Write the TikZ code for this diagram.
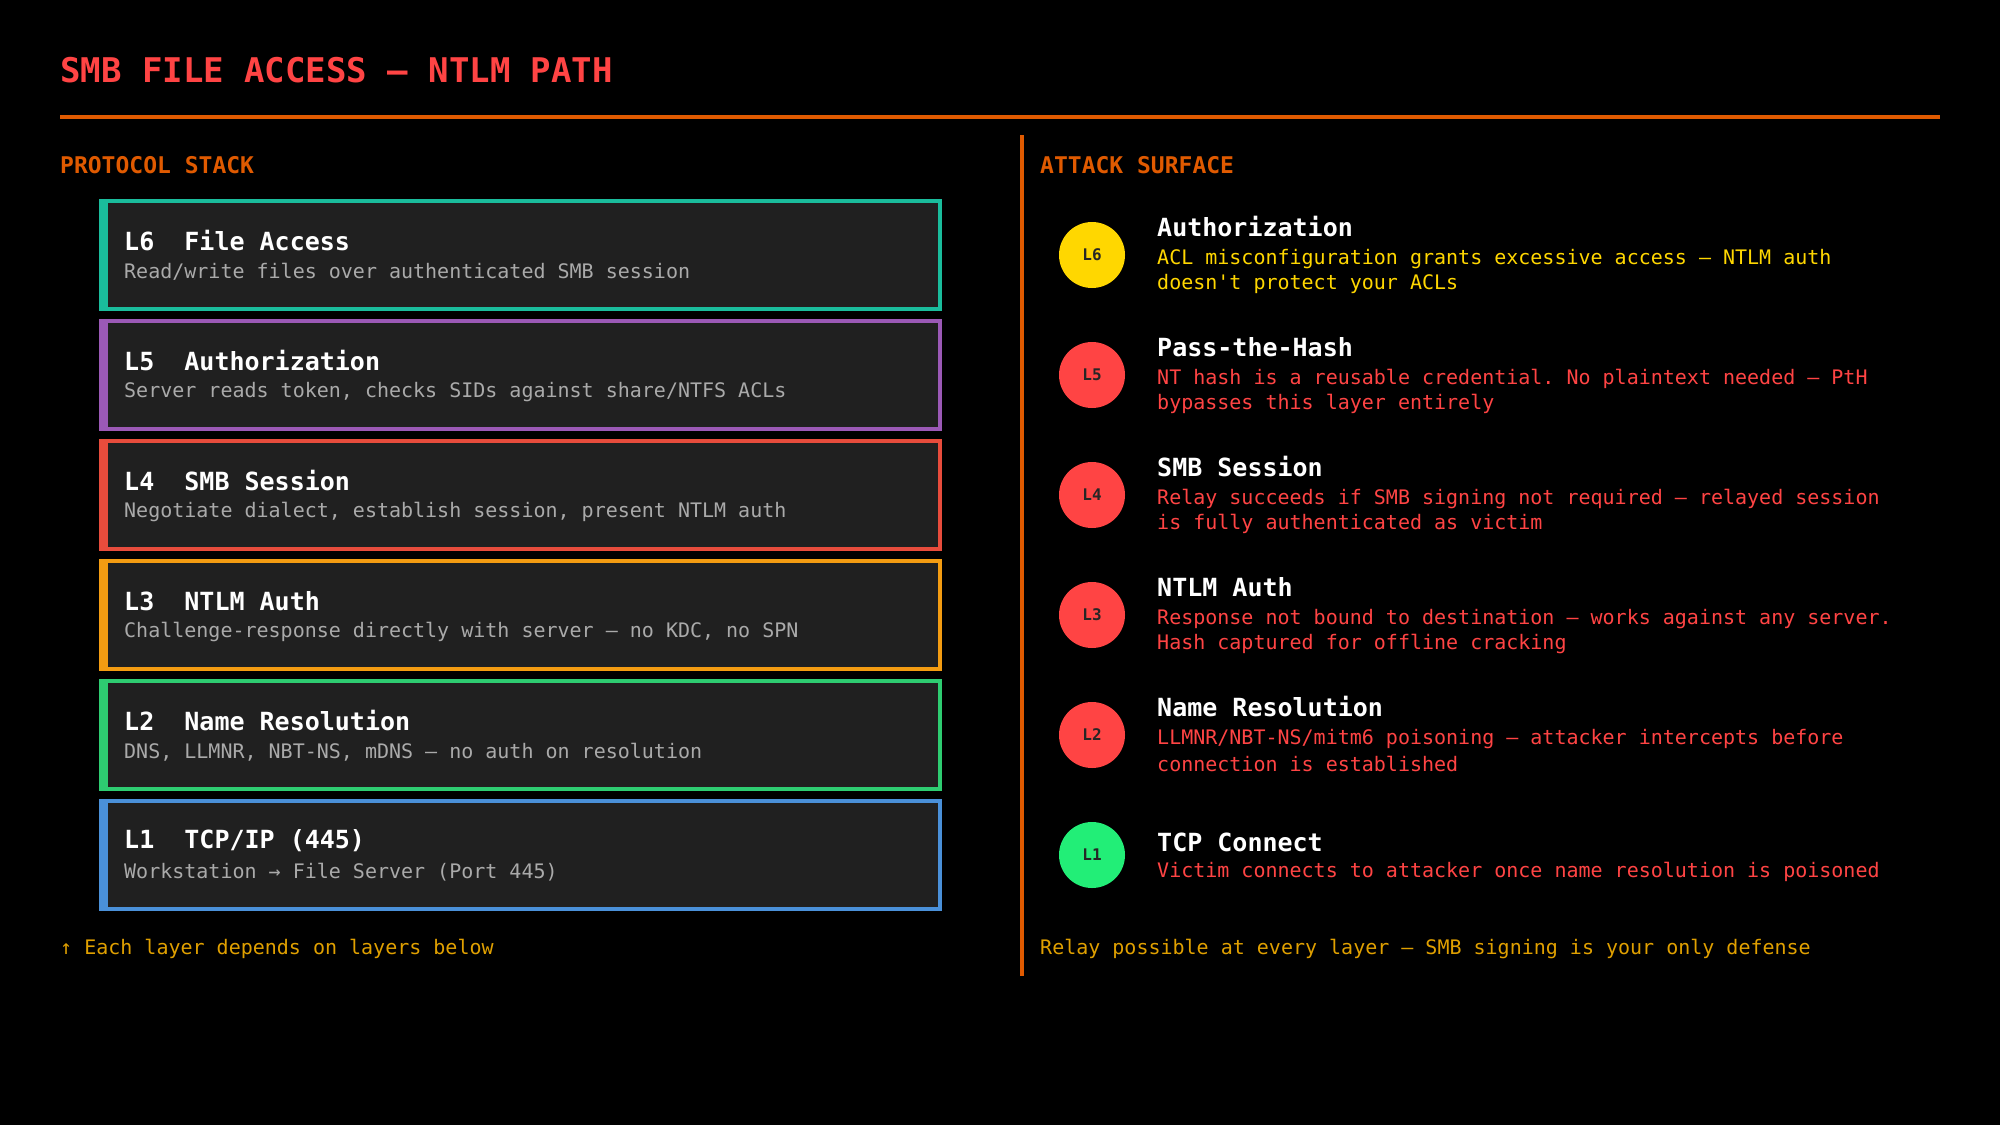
\documentclass[tikz,border=0pt]{standalone}
\usepackage{fontspec}
\setmonofont{DejaVu Sans Mono}
\usetikzlibrary{positioning}

\definecolor{bgbox}{HTML}{202020}
\definecolor{hired}{HTML}{FF4444}
\definecolor{rule}{HTML}{E05A00}
\definecolor{note}{HTML}{E0A000}
\definecolor{subgray}{HTML}{AAAAAA}
\definecolor{cL6}{HTML}{1ABC9C}
\definecolor{cL5}{HTML}{9B59B6}
\definecolor{cL4}{HTML}{E74C3C}
\definecolor{cL3}{HTML}{F39C12}
\definecolor{cL2}{HTML}{2ECC71}
\definecolor{cL1}{HTML}{4A90D9}
\definecolor{rYel}{HTML}{FFD700}
\definecolor{rRed}{HTML}{FF4444}
\definecolor{rGrn}{HTML}{22EE77}

\tikzset{
  txt/.style={inner sep=0pt, anchor=west, text=white},
  bigtitle/.style={txt, text=hired, font=\fontsize{34}{40}\selectfont\ttfamily\bfseries},
  section/.style={txt, text=rule, font=\fontsize{23}{28}\selectfont\ttfamily\bfseries},
  layertitle/.style={txt, font=\fontsize{25}{30}\selectfont\ttfamily\bfseries},
  layersub/.style={txt, text=subgray, font=\fontsize{20}{25}\selectfont\ttfamily},
  footnote/.style={txt, text=note, font=\fontsize{20}{25}\selectfont\ttfamily},
  badge/.style={circle, minimum size=66pt, inner sep=0pt, text=black!85, font=\fontsize{16}{18}\selectfont\ttfamily\bfseries},
}

\begin{document}
\begin{tikzpicture}[x=1pt,y=-1pt]
% background and page frame
\fill[black] (0,0) rectangle (2000,1125);
\useasboundingbox (0,0) rectangle (2000,1125);

\node[bigtitle] (title) at (60,70) {SMB FILE ACCESS — NTLM PATH};
\draw[rule, line width=4pt] (60,117) -- (1940,117);

% left column: protocol stack
\node[section] (stackhead) at (60,165) {PROTOCOL STACK};

\foreach \i/\lay/\col/\name/\sub in {
  0/6/cL6/File Access/{Read/write files over authenticated SMB session},
  1/5/cL5/Authorization/{Server reads token, checks SIDs against share/NTFS ACLs},
  2/4/cL4/SMB Session/{Negotiate dialect, establish session, present NTLM auth},
  3/3/cL3/NTLM Auth/{Challenge-response directly with server — no KDC, no SPN},
  4/2/cL2/Name Resolution/{DNS, LLMNR, NBT-NS, mDNS — no auth on resolution},
  5/1/cL1/{TCP/IP (445)}/{Workstation → File Server (Port 445)}
}{
  \pgfmathsetmacro\yc{255+120*\i}
  \draw[\col, fill=bgbox, line width=3.5pt] (101,\yc-54) rectangle (940,\yc+54);
  \fill[\col] (99,\yc-56) rectangle (108,\yc+56);
  \node[layertitle] (st\lay) at (124,\yc-14) {L\lay\ \ \name};
  \node[layersub] (ss\lay) at (124,\yc+17) {\sub};
}

\node[footnote] (stacknote) at (60,949) {↑ Each layer depends on layers below};

% divider
\draw[rule, line width=4pt] (1022,135) -- (1022,976);

% right column: attack surface
\node[section] (attackhead) at (1040,165) {ATTACK SURFACE};

\foreach \i/\lay/\col/\hd/\lna/\lnb in {
  0/6/rYel/Authorization/{ACL misconfiguration grants excessive access — NTLM auth}/{doesn't protect your ACLs},
  1/5/rRed/Pass-the-Hash/{NT hash is a reusable credential. No plaintext needed — PtH}/{bypasses this layer entirely},
  2/4/rRed/SMB Session/{Relay succeeds if SMB signing not required — relayed session}/{is fully authenticated as victim},
  3/3/rRed/NTLM Auth/{Response not bound to destination — works against any server.}/{Hash captured for offline cracking},
  4/2/rRed/Name Resolution/{LLMNR/NBT-NS/mitm6 poisoning — attacker intercepts before}/{connection is established}
}{
  \pgfmathsetmacro\yc{255+120*\i}
  \node[badge, fill=\col] (b\lay) at (1092,\yc) {L\lay};
  \node[layertitle] (h\lay) at (1157,\yc-28) {\hd};
  \node[layersub, text=\col] (da\lay) at (1157,\yc+4) {\lna};
  \node[layersub, text=\col] (db\lay) at (1157,\yc+29) {\lnb};
}

\node[badge, fill=rGrn] (b1) at (1092,855) {L1};
\node[layertitle] (h1) at (1157,842) {TCP Connect};
\node[layersub, text=rRed] (d1) at (1157,872) {Victim connects to attacker once name resolution is poisoned};

\node[footnote] (attacknote) at (1040,949) {Relay possible at every layer — SMB signing is your only defense};
\end{tikzpicture}
\end{document}
